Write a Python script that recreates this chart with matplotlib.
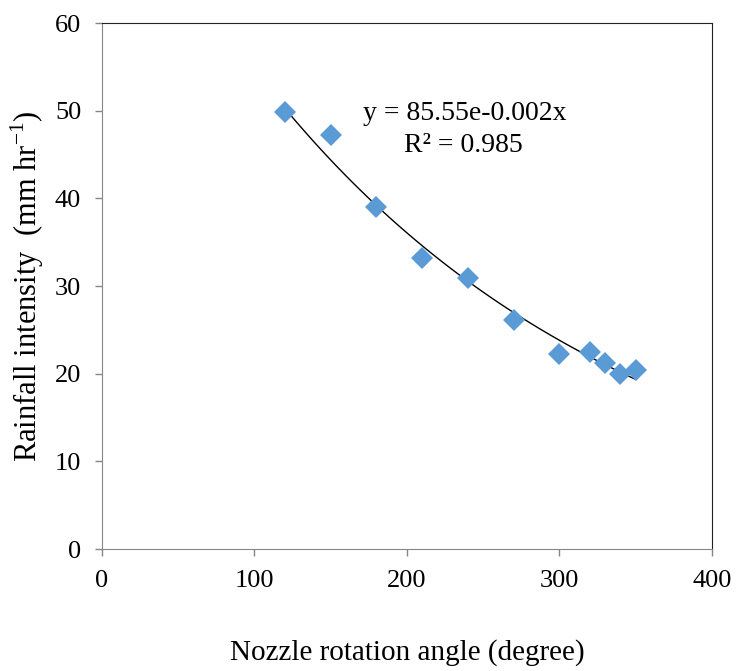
import matplotlib.pyplot as plt
import numpy as np

plt.rcParams["font.family"] = ["Liberation Serif", "DejaVu Serif"]
plt.rcParams["mathtext.fontset"] = "custom"
plt.rcParams["mathtext.rm"] = "Liberation Serif"

# nozzle rotation angle (degree) and rainfall intensity (mm/hr)
angle = [120, 150, 180, 210, 240, 270, 300, 320, 330, 340, 350]
intensity = [49.8, 47.2, 39.0, 33.2, 30.9, 26.1, 22.3, 22.5, 21.2, 20.0, 20.4]

x_ticks = [0, 100, 200, 300, 400]
y_ticks = [0, 10, 20, 30, 40, 50, 60]

eq_text = "y = 85.55e-0.002x"
r2_text = "R² = 0.985"

fig = plt.figure(figsize=(7.37, 6.71), dpi=100)
ax = fig.add_axes([0.1384, 0.1818, 0.8276, 0.7839])

# exponential trend line fitted through the points
b, ln_a = np.polyfit(angle, np.log(intensity), 1)
xs = np.linspace(min(angle), max(angle), 100)
ax.plot(xs, np.exp(ln_a) * np.exp(b * xs), color="black", lw=1.0, zorder=2)

ax.plot(angle, intensity, linestyle="none", marker="D", markersize=11.5,
        color="#5B9BD5", markeredgewidth=0, zorder=3)

ax.set_xlim(0, 400)
ax.set_ylim(0, 60)
ax.set_xticks(x_ticks)
ax.set_yticks(y_ticks)
ax.tick_params(labelsize=19, direction="out", length=5, width=1,
               color="#868686")
ax.tick_params(axis="y", pad=10)
ax.tick_params(axis="x", pad=10)

for side in ["left", "bottom"]:
    ax.spines[side].set_color("#868686")
for side in ["top", "right"]:
    ax.spines[side].set_color("#222222")

ax.text(238, 49.7, eq_text, fontsize=20, ha="center", va="center")
ax.text(237, 46.0, r2_text, fontsize=20, ha="center", va="center")

ax.set_xlabel("Nozzle rotation angle (degree)", fontsize=21, labelpad=34)
ax.set_ylabel("Rainfall intensity  (mm hr$^{\\mathregular{-1}}$)",
              fontsize=22, labelpad=6)

fig.savefig("out.png", dpi=100)
